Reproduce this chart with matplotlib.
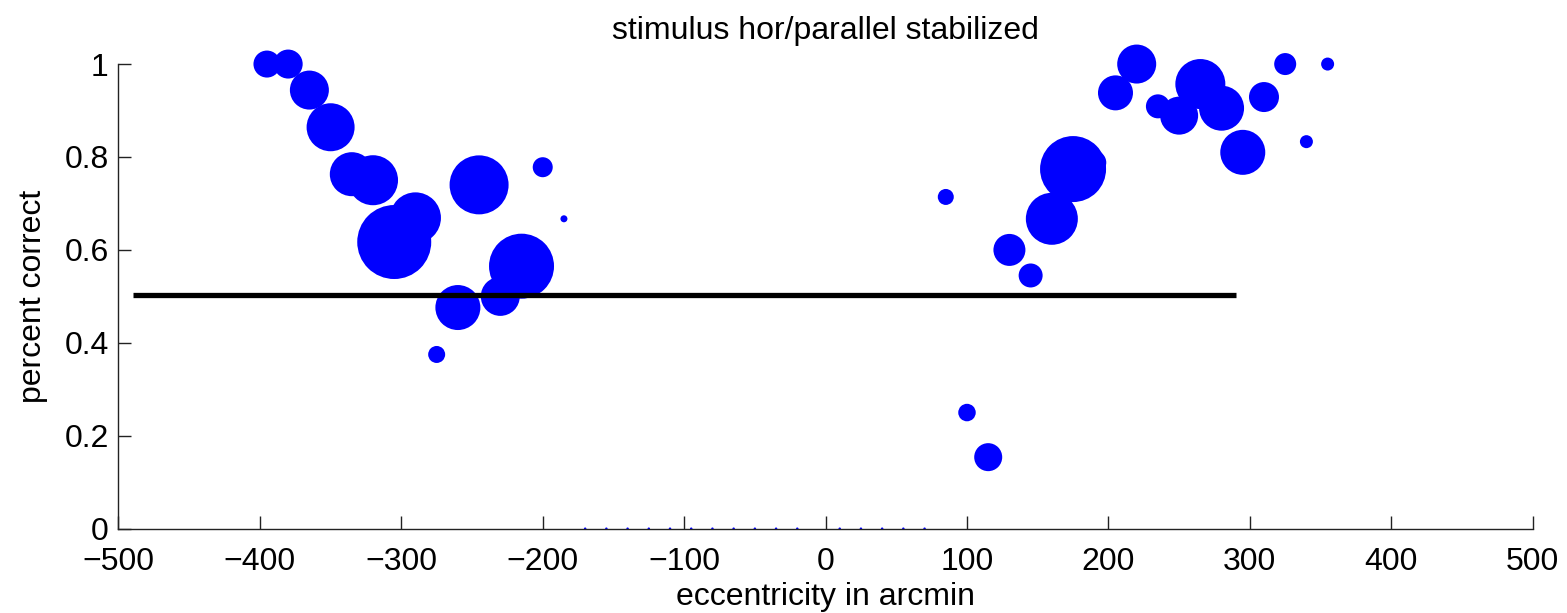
import matplotlib
matplotlib.use("Agg")
import matplotlib.pyplot as plt
import numpy as np

plt.rcParams['font.family'] = ['Liberation Sans', 'DejaVu Sans']

# eccentricity (arcmin)
ecc = [-395, -380, -365, -350, -335, -320, -305, -290, -275, -260, -245, -230, -215, -200, -185,
       -170, -155, -140, -125, -110, -95, -80, -65, -50, -35, -20, 10, 25, 40, 55, 70,
       85, 100, 115, 130, 145, 160, 175, 190, 205, 220, 235, 250, 265, 280, 295, 310, 325, 340, 355]
# percent correct
pc = [1.0, 1.0, 0.944, 0.864, 0.763, 0.75, 0.617, 0.669, 0.375, 0.476, 0.74, 0.5, 0.565, 0.778, 0.667,
      0, 0, 0, 0, 0, 0, 0, 0, 0, 0, 0, 0, 0, 0, 0, 0,
      0.714, 0.25, 0.154, 0.6, 0.545, 0.667, 0.774, 0.788, 0.938, 1.0, 0.909, 0.889, 0.957, 0.905,
      0.81, 0.929, 1.0, 0.833, 1.0]
# relative weight (number of trials, shown as marker diameter)
weight = [27, 29, 39, 48, 44, 50, 74, 51, 17, 45, 59, 39, 65, 20, 7,
          2.5, 2.5, 2.5, 2.5, 2.5, 2.5, 2.5, 2.5, 2.5, 2.5, 2.5, 2.5, 2.5, 2.5, 2.5, 2.5,
          16, 17.5, 28, 32, 24, 52, 66, 24, 35, 39, 24, 38, 50, 45, 45, 30, 22, 13, 13]

chance_x = [-490, 290]
chance_y = [0.503, 0.503]

xticks = [-500, -400, -300, -200, -100, 0, 100, 200, 300, 400, 500]
yticks = [0, 0.2, 0.4, 0.6, 0.8, 1]
ytick_labels = ['0', '0.2', '0.4', '0.6', '0.8', '1']

dpi = 100
fig = plt.figure(figsize=(15.67, 6.13), dpi=dpi)
ax = fig.add_axes([0.0756, 0.1375, 0.9025, 0.758])

sizes = (np.array(weight) * 72.0 / dpi) ** 2
ax.scatter(ecc, pc, s=sizes, c='#0000ff', edgecolors='none', zorder=2, clip_on=False)
ax.plot(chance_x, chance_y, color='black', linewidth=3.8, solid_capstyle='butt', zorder=3)

ax.set_xlim(-500, 500)
ax.set_ylim(0, 1)
ax.set_xticks(xticks)
ax.set_xticklabels([('\u2212' + str(-t)) if t < 0 else str(t) for t in xticks])
ax.set_yticks(yticks)
ax.set_yticklabels(ytick_labels)

for s in ['top', 'right']:
    ax.spines[s].set_visible(False)
for s in ['left', 'bottom']:
    ax.spines[s].set_linewidth(1.0)
    ax.spines[s].set_color('#222222')

ax.tick_params(direction='in', length=9.4, width=1.0, labelsize=23, colors='#222222',
               labelcolor='black')
ax.tick_params(axis='x', pad=13)
ax.tick_params(axis='y', pad=7)

ax.set_title('stimulus hor/parallel stabilized', fontsize=23, pad=18)
ax.set_xlabel('eccentricity in arcmin', fontsize=23, labelpad=4)
ax.set_ylabel('percent correct', fontsize=23, labelpad=12)

fig.savefig('out.png', dpi=dpi)
